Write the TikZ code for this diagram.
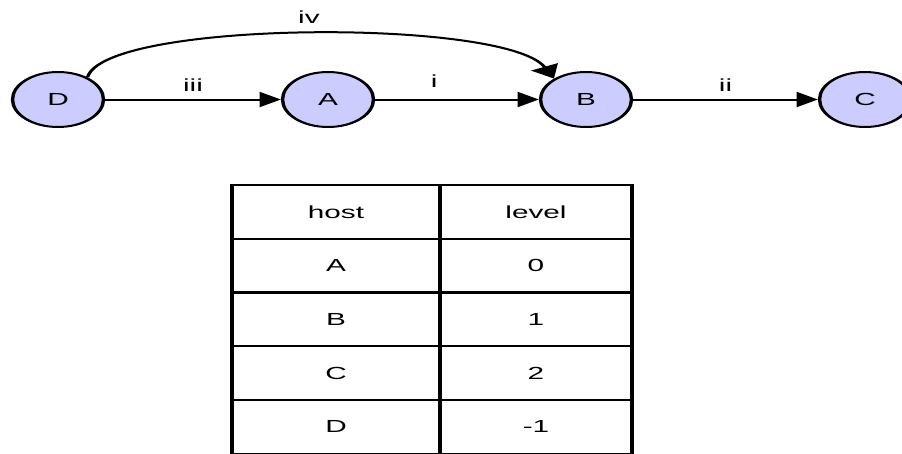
\documentclass[tikz,border=0pt]{standalone}
\usepackage{fontspec}
\setmainfont{Liberation Sans}
\usetikzlibrary{arrows.meta,shapes.geometric}
\definecolor{nodefill}{HTML}{CCCCFF}
\begin{document}
\begin{tikzpicture}[
  font=\fontsize{17.5}{20}\selectfont,
  hostnode/.style={ellipse, draw, fill=nodefill, line width=2pt,
    minimum width=53.5pt, minimum height=55pt, inner sep=0pt},
  link/.style={line width=2pt, -{Triangle[length=12.5pt,width=15pt]}},
  lbl/.style={inner sep=0pt},
  cell/.style={draw, line width=2pt, minimum height=53.75pt, inner sep=0pt},
  colA/.style={cell, minimum width=122.35pt},
  colB/.style={cell, minimum width=112.94pt}
]
\path[use as bounding box] (0,0) rectangle (902pt,-453pt);
% everything is laid out in a horizontally stretched canvas
\begin{scope}[transform canvas={xscale=1.7}, x={(0.588235pt,0)}, y={(0,-1pt)}]
  % hosts
  \node[hostnode] (D) at (58,99.5) {D};
  \node[hostnode] (A) at (328,99.5) {A};
  \node[hostnode] (B) at (586,99.5) {B};
  \node[hostnode] (C) at (865,99.5) {C};

  % links
  \draw[link] (D) -- (A) node[lbl, midway, above=7.5pt] {iii};
  \draw[link] (A) -- (B) node[lbl, pos=0.36, above=11.5pt] {i};
  \draw[link] (B) -- (C) node[lbl, midway, above=7.5pt] {ii};
  \draw[link, -{Triangle[length=13pt,width=17pt]}] (D.52) .. controls (105,20) and (505,18) .. (B.132)
    node[lbl, pos=0.5, above=9pt] {iv};

  % level table
  \node[colA] (th) at (336,211.9) {host};
  \node[colB] (tl) at (536,211.9) {level};
  \node[colA] (ha) at (336,265.6) {A};
  \node[colB] (la) at (536,265.6) {0};
  \node[colA] (hb) at (336,319.4) {B};
  \node[colB] (lb) at (536,319.4) {1};
  \node[colA] (hc) at (336,373.1) {C};
  \node[colB] (lc) at (536,373.1) {2};
  \node[colA] (hd) at (336,426.9) {D};
  \node[colB] (ld) at (536,426.9) {-1};
\end{scope}
\end{tikzpicture}
\end{document}
